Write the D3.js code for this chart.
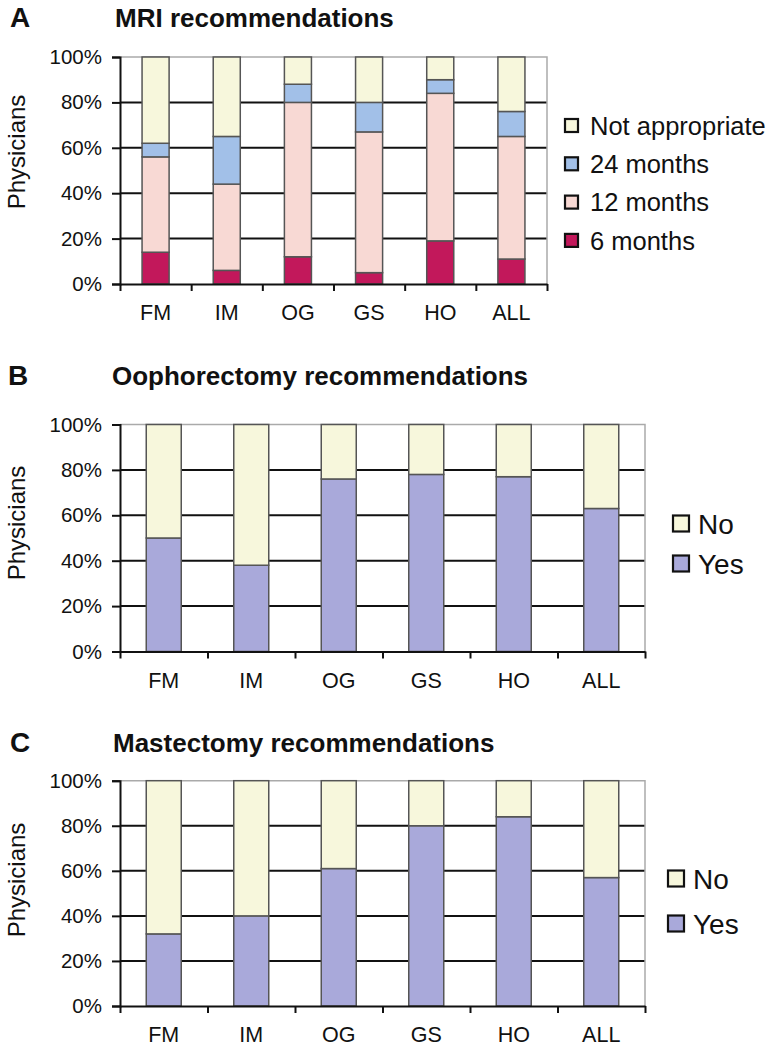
<!DOCTYPE html>
<html><head><meta charset="utf-8">
<script src="https://cdn.jsdelivr.net/npm/d3@7"></script>
<style>body{margin:0;background:#fff}svg{display:block}text{font-family:"Liberation Sans",Arial,sans-serif;fill:#111}</style>
</head><body><svg id="c" width="771" height="1050"></svg>
<script>
const categories = ["FM","IM","OG","GS","HO","ALL"];
const yTicks = [0,20,40,60,80,100];
// Panel A: MRI recommendations
const mriSeries = ["6 months","12 months","24 months","Not appropriate"];
const mri6  = [14, 6,12, 5,19,11];
const mri12 = [42,38,68,62,65,54];
const mri24 = [ 6,21, 8,13, 6,11];
const mriNA = [38,35,12,20,10,24];
// Panel B: Oophorectomy
const ynSeries = ["Yes","No"];
const oophYes = [50,38,76,78,77,63];
const oophNo  = [50,62,24,22,23,37];
// Panel C: Mastectomy
const mastYes = [32,40,61,80,84,57];
const mastNo  = [68,60,39,20,16,43];

const svg = d3.select("#c");
const colors = {"6 months":"#c2185b","12 months":"#f8d9d4","24 months":"#a2c0e8","Not appropriate":"#f7f7dc","Yes":"#a9a9da","No":"#f7f7dc"};

function panel(o){
  const g = svg.append("g");
  const rows = categories.map((c,i)=>{const r={cat:c}; o.series.forEach((s,j)=>r[s]=o.values[j][i]); return r;});
  const stack = d3.stack().keys(o.series)(rows);
  const x = d3.scaleBand().domain(categories).range([o.x0,o.x1]).paddingInner(o.pad).paddingOuter(o.pad/2);
  const xb = d3.scaleLinear().domain([0,categories.length]).range([o.x0,o.x1]);
  const y = d3.scaleLinear().domain([0,100]).range([o.y1,o.y0]);
  // letter & title
  g.append("text").attr("x",o.lx).attr("y",o.ty).attr("font-size",28).attr("font-weight","bold").text(o.letter);
  g.append("text").attr("x",o.tx).attr("y",o.ty).attr("font-size",26).attr("font-weight","bold").text(o.title);
  // gridlines
  g.selectAll(".grid").data(yTicks.filter(t=>t>0&&t<100)).join("line")
    .attr("x1",o.x0).attr("x2",o.x1).attr("y1",d=>y(d)).attr("y2",d=>y(d))
    .attr("stroke","#111").attr("stroke-width",2);
  // border top/right
  g.append("path").attr("d",`M${o.x0},${y(100)}H${o.x1}V${y(0)}`).attr("fill","none").attr("stroke","#aaa").attr("stroke-width",1.5);
  // bars
  g.selectAll(".layer").data(stack).join("g").attr("fill",d=>colors[d.key])
    .selectAll("rect").data(d=>d).join("rect")
    .attr("x",d=>x(d.data.cat)).attr("width",x.bandwidth())
    .attr("y",d=>y(d[1])).attr("height",d=>y(d[0])-y(d[1]))
    .attr("stroke","#555").attr("stroke-width",1.5);
  // y axis
  const ya = g.append("g").attr("transform",`translate(${o.x0},0)`)
    .call(d3.axisLeft(y).tickValues(yTicks).tickFormat(d=>d+"%").tickSize(8).tickPadding(10));
  ya.select(".domain").attr("stroke","#111").attr("stroke-width",2);
  ya.selectAll(".tick line").attr("stroke","#111").attr("stroke-width",2);
  ya.selectAll("text").attr("font-size",20.5).attr("fill","#1a1a1a").attr("font-family","Liberation Sans, Arial, sans-serif");
  // x axis
  const xa = g.append("g").attr("transform",`translate(0,${o.y1})`)
    .call(d3.axisBottom(xb).tickValues(d3.range(categories.length+1)).tickFormat("").tickSize(7).tickSizeOuter(0));
  xa.select(".domain").attr("stroke","#111").attr("stroke-width",2);
  xa.selectAll(".tick line").attr("stroke","#111").attr("stroke-width",2);
  g.selectAll(".cl").data(categories).join("text")
    .attr("x",d=>x(d)+x.bandwidth()/2).attr("y",o.y1+36).attr("text-anchor","middle")
    .attr("font-size",21.5).attr("fill","#1a1a1a").text(d=>d);
  // y label
  g.append("text").attr("transform",`translate(25,${o.pyc}) rotate(-90)`).attr("text-anchor","middle")
    .attr("font-size",24).attr("fill","#1a1a1a").text("Physicians");
  // legend
  const leg = o.series.slice().reverse();
  leg.forEach((s,i)=>{
    const cy = o.legY0 + i*o.legDy;
    g.append("rect").attr("x",o.legX).attr("y",cy-o.sq/2).attr("width",o.sq).attr("height",o.sq)
      .attr("fill",colors[s]).attr("stroke","#111").attr("stroke-width",2.2);
    g.append("text").attr("x",o.legX+o.sq+o.gap).attr("y",cy).attr("dy","0.36em")
      .attr("font-size",o.lfs).attr("fill","#1a1a1a").text(s);
  });
}

panel({letter:"A",title:"MRI recommendations",lx:10,tx:115,ty:27,
  x0:120,x1:547,y0:57,y1:284,pad:0.62,pyc:152,
  series:mriSeries,values:[mri6,mri12,mri24,mriNA],
  legX:565,legY0:125.5,legDy:38.3,sq:13,gap:12,lfs:25.5});
panel({letter:"B",title:"Oophorectomy recommendations",lx:8,tx:112,ty:385,
  x0:120,x1:645,y0:424.5,y1:651.5,pad:0.6,pyc:523,
  series:ynSeries,values:[oophYes,oophNo],
  legX:673,legY0:523.5,legDy:40,sq:16,gap:9,lfs:28});
panel({letter:"C",title:"Mastectomy recommendations",lx:10,tx:113,ty:751.5,
  x0:120,x1:645,y0:780.7,y1:1006,pad:0.6,pyc:880,
  series:ynSeries,values:[mastYes,mastNo],
  legX:668,legY0:878.5,legDy:45,sq:16,gap:9,lfs:28});
</script></body></html>
